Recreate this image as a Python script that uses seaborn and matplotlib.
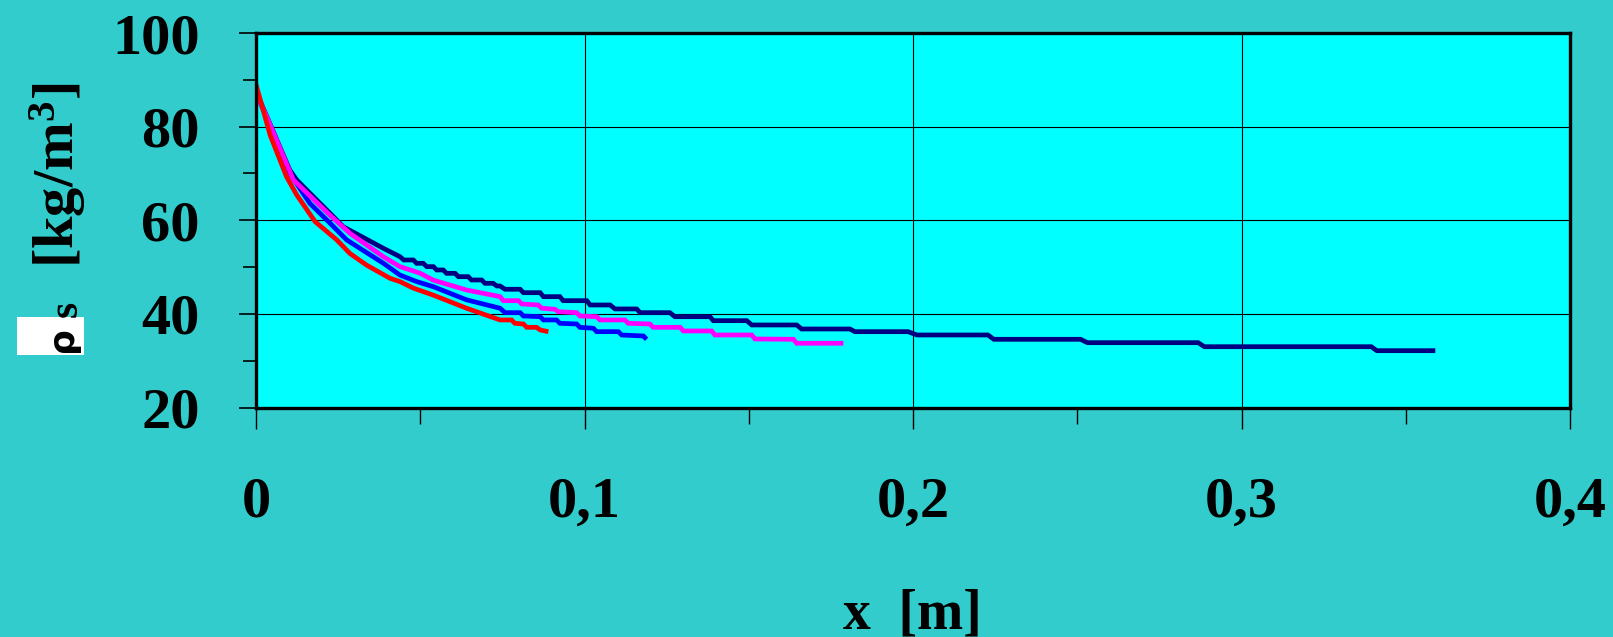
import matplotlib
matplotlib.use("Agg")
import matplotlib.pyplot as plt
from matplotlib.ticker import MultipleLocator, FixedLocator, FixedFormatter
from matplotlib.patches import Rectangle
import seaborn as sns
import pandas as pd

# Solid-phase density profiles rho_s(x) for four runs
x_red = [0.0, 0.0043, 0.0093, 0.0124, 0.0180, 0.0246, 0.0286, 0.0337, 0.0408,
         0.0438, 0.0479, 0.0540, 0.0641, 0.0743, 0.0778, 0.0788, 0.0814, 0.0824,
         0.0854, 0.0865, 0.0890]
y_red = [89.0, 78.2, 69.3, 65.4, 59.7, 55.8, 52.9, 50.4, 47.6,
         46.9, 45.5, 44.0, 41.2, 38.70, 38.70, 37.99, 37.84, 37.13,
         37.13, 36.56, 36.20]

x_blue = [0.0, 0.0048, 0.0103, 0.0164, 0.0225, 0.0276, 0.0388, 0.0438, 0.0489,
          0.0540, 0.0641, 0.0743, 0.0758, 0.0804, 0.0814, 0.0865, 0.0875, 0.0915,
          0.0925, 0.0976, 0.0986, 0.1027, 0.1037, 0.1103, 0.1113, 0.1179, 0.1189]
y_blue = [87.2, 79.5, 70.0, 63.6, 59.4, 55.8, 50.8, 48.3, 46.9,
          45.8, 43.0, 41.20, 40.26, 40.26, 39.55, 39.40, 38.70, 38.70,
          37.99, 37.84, 37.13, 36.92, 36.20, 36.20, 35.49, 35.28, 34.57]

x_magenta = [0.0, 0.0048, 0.0114, 0.0225, 0.0286, 0.0388, 0.0438, 0.0499, 0.0540,
             0.0641, 0.0743, 0.0753, 0.0799, 0.0809, 0.0859, 0.0870, 0.0910, 0.0920,
             0.0976, 0.0986, 0.1037, 0.1047, 0.1123, 0.1133, 0.1199, 0.1209, 0.1291,
             0.1301, 0.1387, 0.1397, 0.1509, 0.1519, 0.1636, 0.1646, 0.1788]
y_magenta = [87.3, 79.6, 68.6, 61.1, 57.2, 52.2, 50.1, 48.7, 47.2,
             45.1, 43.68, 42.82, 42.82, 42.12, 41.90, 41.20, 40.98, 40.47,
             40.26, 39.55, 39.40, 38.70, 38.70, 37.99, 37.84, 37.13, 37.13,
             36.35, 36.35, 35.49, 35.49, 34.64, 34.57, 33.72, 33.72]

x_navy = [0.0, 0.0048, 0.0103, 0.0124, 0.0235, 0.0266, 0.0388, 0.0438, 0.0450,
          0.0479, 0.0489, 0.0509, 0.0520, 0.0540, 0.0550, 0.0570, 0.0580, 0.0606,
          0.0616, 0.0646, 0.0656, 0.0687, 0.0697, 0.0722, 0.0733,
          0.0743, 0.0758, 0.0804, 0.0814, 0.0865, 0.0875, 0.0925,
          0.0935, 0.1007, 0.1017, 0.1078, 0.1093, 0.1159, 0.1169, 0.1260, 0.1275,
          0.1382, 0.1392, 0.1494, 0.1509, 0.1646, 0.1661, 0.1808, 0.1823, 0.1985,
          0.2012, 0.2228, 0.2246, 0.2510, 0.2531, 0.2868, 0.2887, 0.3395, 0.3412,
          0.3590]
y_navy = [87.5, 79.7, 70.7, 68.6, 60.8, 58.6, 54.0, 52.23, 51.51,
          51.51, 50.80, 50.80, 50.09, 50.09, 49.38, 49.38, 48.66, 48.66,
          47.95, 47.95, 47.24, 47.24, 46.53, 46.53, 45.96,
          45.96, 45.26, 45.26, 44.53, 44.53, 43.68, 43.68,
          42.82, 42.82, 41.90, 41.90, 41.05, 41.05, 40.26, 40.26, 39.40,
          39.40, 38.55, 38.55, 37.63, 37.63, 36.77, 36.77, 36.20, 36.20,
          35.49, 35.49, 34.57, 34.57, 33.85, 33.85, 32.99, 32.99, 32.14,
          32.14]

x_ticks = [0.0, 0.1, 0.2, 0.3, 0.4]
x_tick_labels = ["0", "0,1", "0,2", "0,3", "0,4"]
y_ticks = [20, 40, 60, 80, 100]
y_tick_labels = ["20", "40", "60", "80", "100"]

series_order = ["navy", "blue", "magenta", "red"]
series_colors = {"navy": "#000080", "blue": "#0000FF",
                 "magenta": "#FF00FF", "red": "#FF0000"}

frames = []
for name, xs, ys in [("navy", x_navy, y_navy), ("blue", x_blue, y_blue),
                     ("magenta", x_magenta, y_magenta), ("red", x_red, y_red)]:
    frames.append(pd.DataFrame({"x": xs, "rho": ys, "run": name}))
df = pd.concat(frames, ignore_index=True)

sns.set_style("white")
plt.rcParams["font.family"] = ["Liberation Serif", "DejaVu Serif"]
plt.rcParams["font.weight"] = "bold"
plt.rcParams["text.color"] = "black"
plt.rcParams["xtick.labelcolor"] = "black"
plt.rcParams["ytick.labelcolor"] = "black"
plt.rcParams["mathtext.fontset"] = "custom"
plt.rcParams["mathtext.rm"] = "Liberation Serif:bold"
plt.rcParams["mathtext.it"] = "Liberation Serif:bold"
plt.rcParams["mathtext.bf"] = "Liberation Serif:bold"

BG = "#33CCCC"
W, H = 1613, 637
fig = plt.figure(figsize=(W / 100, H / 100), dpi=100, facecolor=BG)
ax = fig.add_axes([256 / W, 1 - 407.5 / H, (1570 - 256) / W, (407.5 - 33) / H])
ax.set_facecolor("#00FFFF")

sns.lineplot(data=df, x="x", y="rho", hue="run", hue_order=series_order,
             palette=series_colors, estimator=None, sort=False, legend=False,
             ax=ax, zorder=3)
for line in ax.get_lines():
    line.set_linewidth(3.4)
    line.set_solid_joinstyle("miter")
    line.set_solid_capstyle("butt")

ax.set_xlim(0, 0.4)
ax.set_ylim(20, 100)
ax.xaxis.set_major_locator(FixedLocator(x_ticks))
ax.xaxis.set_major_formatter(FixedFormatter(x_tick_labels))
ax.xaxis.set_minor_locator(MultipleLocator(0.05))
ax.yaxis.set_major_locator(FixedLocator(y_ticks))
ax.yaxis.set_major_formatter(FixedFormatter(y_tick_labels))
ax.yaxis.set_minor_locator(MultipleLocator(10))

ax.grid(True, which="major", color="black", linewidth=0.8)
ax.set_axisbelow(True)

for side in ["left", "right", "top", "bottom"]:
    ax.spines[side].set_visible(True)
    ax.spines[side].set_color("black")
    ax.spines[side].set_linewidth(2.4)
    ax.spines[side].set_zorder(5)

ax.tick_params(axis="x", which="major", direction="out", length=15, width=1.0,
               color="black", pad=35, labelsize=42, bottom=True)
ax.tick_params(axis="x", which="minor", direction="out", length=11.5, width=1.0,
               color="black", bottom=True)
ax.tick_params(axis="y", which="major", direction="out", length=12.5, width=1.2,
               color="black", pad=28, labelsize=42, left=True)
ax.tick_params(axis="y", which="minor", direction="out", length=9.5, width=1.2,
               color="black", left=True)
for lab in ax.get_xticklabels() + ax.get_yticklabels():
    lab.set_fontweight("bold")
    lab.set_color("black")

ax.set_xlabel("")
ax.set_ylabel("")

# Axis titles
fig.text(912 / W, 1 - 628 / H, "x  [m]", ha="center", va="baseline",
         fontsize=40, fontweight="bold", color="black")
fig.text(74 / W, 1 - 175 / H, r"[kg/m$^{3}$]", rotation=90, rotation_mode="anchor",
         ha="center", va="baseline", fontsize=42, fontweight="bold", color="black")
fig.text(77 / W, 1 - 309 / H, "s", rotation=90, rotation_mode="anchor",
         ha="center", va="baseline", fontsize=30, fontweight="bold", color="black")
fig.patches.append(Rectangle((17 / W, 1 - 355 / H), (84 - 17) / W, (355 - 317) / H,
                             transform=fig.transFigure, facecolor="white",
                             edgecolor="none", zorder=1))
fig.text(62 / W, 1 - 339 / H, "ρ", rotation=90, ha="center", va="center",
         fontsize=26, fontweight="bold", family=["DejaVu Sans"], color="black",
         zorder=2)

fig.savefig("out.png", dpi=100, facecolor=BG)
